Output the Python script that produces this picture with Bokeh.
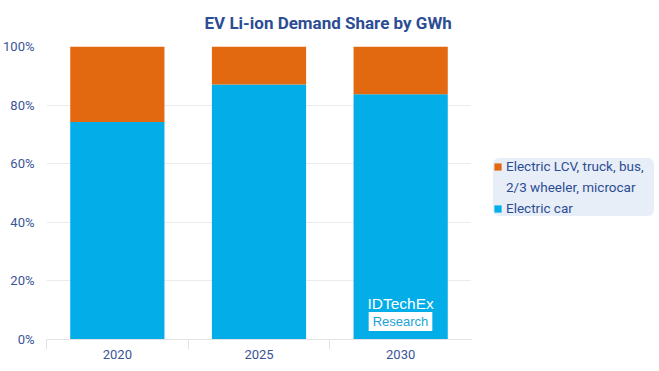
from bokeh.plotting import figure
from bokeh.layouts import row
from bokeh.models import (ColumnDataSource, Range1d, FixedTicker, Legend, LegendItem,
                          Label, CustomJSTickFormatter)
from bokeh.embed import file_html
from bokeh.resources import INLINE

categories = ["2020", "2025", "2030"]
electric_car = [74.2, 87.0, 83.7]
other_ev = [25.8, 13.0, 16.3]
legend_lines = ["Electric LCV, truck, bus,", "2/3 wheeler, microcar", "Electric car"]
y_ticks = [0, 20, 40, 60, 80, 100]

BLUE = "#02ade8"
ORANGE = "#e2690f"
DARK = "#2c4d94"
TICK = "#3a5596"
FONT = "Roboto"

pos = [i + 0.5 for i in range(len(categories))]
src = ColumnDataSource(dict(x=pos, top_car=electric_car,
                            top_all=[a + b for a, b in zip(electric_car, other_ev)]))

p = figure(width=471, height=371, output_backend="svg", toolbar_location=None,
           x_range=Range1d(0, len(categories)), y_range=Range1d(0, 100),
           min_border_left=46, min_border_right=0, min_border_top=46, min_border_bottom=32)
p.outline_line_color = None
p.background_fill_color = "white"

p.title.text = "EV Li-ion Demand Share by GWh"
p.title.align = "left"
p.title.vertical_align = "top"
p.title.offset = 158
p.title.standoff = 24
p.title.text_line_height = 1.0
p.title.text_font = FONT
p.title.text_font_size = "17px"
p.title.text_font_style = "bold"
p.title.text_color = DARK

p.vbar(x="x", width=0.665, bottom=0, top="top_car", source=src,
       fill_color=BLUE, line_color=None)
p.vbar(x="x", width=0.665, bottom="top_car", top="top_all", source=src,
       fill_color=ORANGE, line_color=None)

# axes
p.xaxis.ticker = FixedTicker(ticks=pos, minor_ticks=list(range(len(categories) + 1)))
p.xaxis.major_label_overrides = {x: c for x, c in zip(pos, categories)}
p.xaxis.major_tick_line_color = None
p.xaxis.minor_tick_line_color = "#e3e3e3"
p.xaxis.minor_tick_out = 10
p.xaxis.minor_tick_in = 0
p.xaxis.axis_line_color = "#e3e3e3"
p.xaxis.major_label_text_font = FONT
p.xaxis.major_label_text_font_size = "13px"
p.xaxis.major_label_text_color = TICK
p.xaxis.major_label_standoff = 0

p.yaxis.ticker = FixedTicker(ticks=y_ticks)
p.yaxis.formatter = CustomJSTickFormatter(code="return tick + '%';")
p.yaxis.axis_line_color = None
p.yaxis.major_tick_line_color = None
p.yaxis.minor_tick_line_color = None
p.yaxis.major_label_text_font = FONT
p.yaxis.major_label_text_font_size = "13px"
p.yaxis.major_label_text_color = TICK
p.yaxis.major_label_standoff = 6

p.xgrid.grid_line_color = None
p.ygrid.grid_line_color = "#ebebeb"
p.ygrid.ticker = FixedTicker(ticks=y_ticks)

# watermark
p.add_layout(Label(x=321, y=36, x_units="screen", y_units="screen", text="IDTechEx",
                   text_align="left", text_baseline="middle",
                   text_font="Liberation Sans", text_font_size="15.5px",
                   text_color="white"))
p.add_layout(Label(x=354, y=18, x_units="screen", y_units="screen", text="Research",
                   text_align="center", text_baseline="middle",
                   text_font="Liberation Sans", text_font_size="13px",
                   text_color="#1aa3d8", background_fill_color="white",
                   padding=dict(left=4, right=4, top=2, bottom=2)))

# legend panel (separate figure to the right of the plot)
q = figure(width=188, height=371, output_backend="svg", toolbar_location=None,
           x_range=Range1d(0, 1), y_range=Range1d(0, 1), x_axis_type=None, y_axis_type=None,
           min_border=0)
q.outline_line_color = None
q.xgrid.grid_line_color = None
q.ygrid.grid_line_color = None
hidden = ColumnDataSource(dict(x=[-5], top=[-5]))
g_oth = q.vbar(x="x", top="top", width=0.5, source=hidden, fill_color=ORANGE, line_color=None)
g_none = q.vbar(x="x", top="top", width=0.5, source=hidden, fill_alpha=0, line_alpha=0)
g_car = q.vbar(x="x", top="top", width=0.5, source=hidden, fill_color=BLUE, line_color=None)

legend = Legend(items=[LegendItem(label=legend_lines[0] + "\u00a0" * 3, renderers=[g_oth]),
                       LegendItem(label=legend_lines[1], renderers=[g_none]),
                       LegendItem(label=legend_lines[2], renderers=[g_car])],
                location=(22, 123), orientation="vertical",
                background_fill_color="#e8eef8", background_fill_alpha=1,
                border_line_color=None, border_radius=6,
                label_text_font=FONT, label_text_font_size="13.5px",
                label_text_color=DARK,
                glyph_width=9, glyph_height=9, label_standoff=4,
                padding=12, spacing=5, margin=0)
q.add_layout(legend)

open("out.html", "w").write(file_html(row(p, q), INLINE))
